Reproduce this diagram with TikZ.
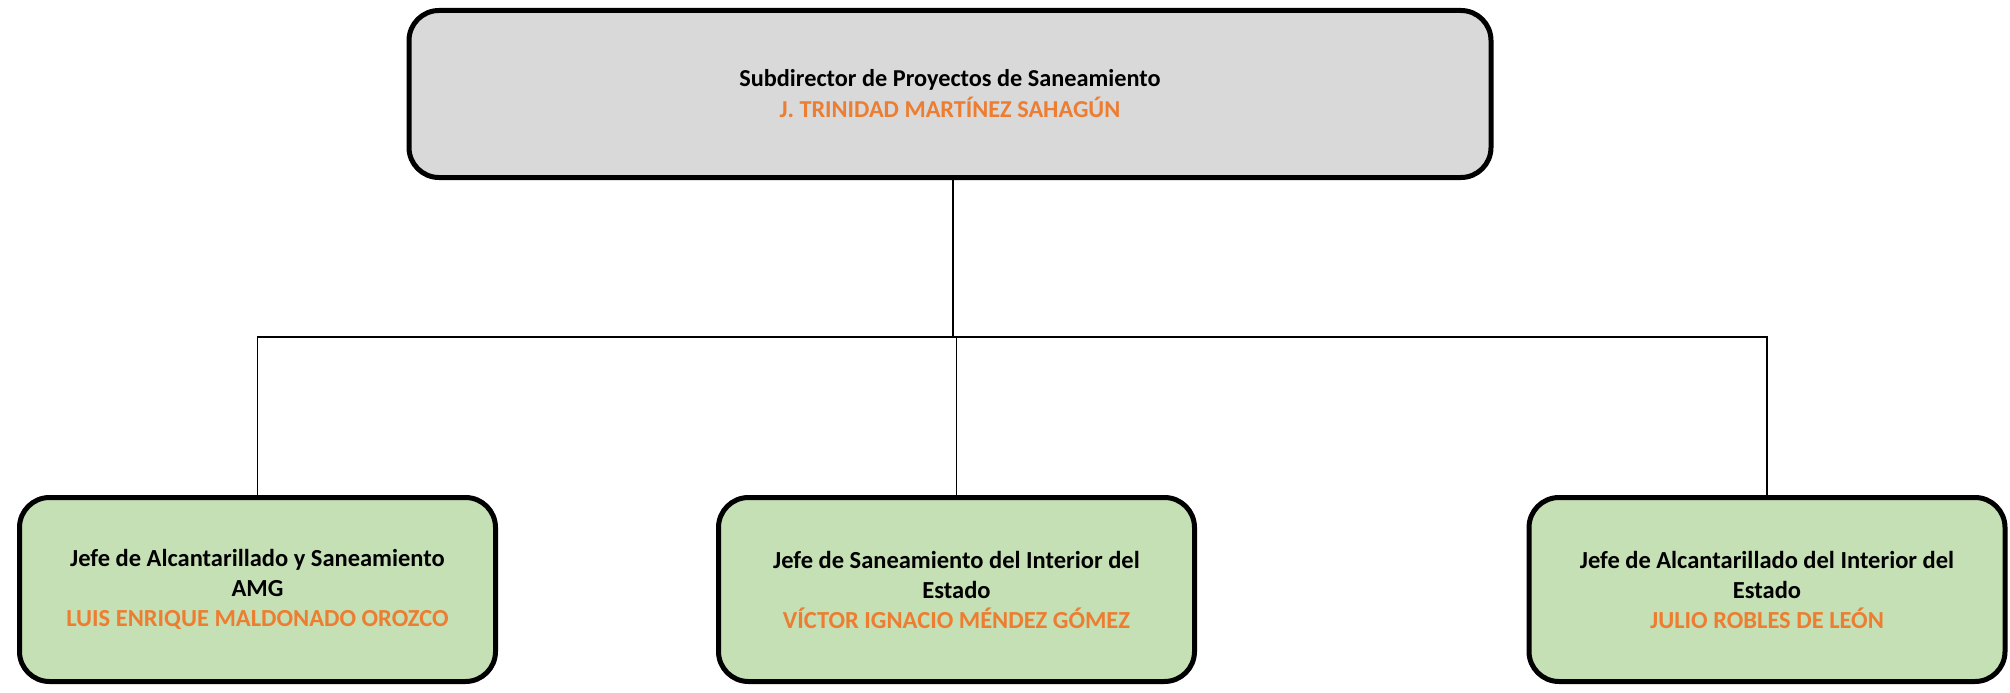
\documentclass[tikz,border=0pt]{standalone}
\usepackage{fontspec}
\setmainfont{Carlito}
\usepackage{tikz}
\usetikzlibrary{positioning}
\definecolor{boxgray}{HTML}{D9D9D9}
\definecolor{boxgreen}{HTML}{C5E0B4}
\definecolor{nameorange}{HTML}{ED7D31}

\begin{document}
\begin{tikzpicture}[x=1pt, y=-1pt,
chief node/.style={rectangle,draw,line width=5pt,rounded corners=30pt,fill=boxgray,
  minimum width=1082pt,minimum height=167pt,align=center,
  font=\fontsize{24.3}{31}\selectfont\bfseries},
staff node/.style={rectangle,draw,line width=5pt,rounded corners=30pt,fill=boxgreen,
  minimum width=476pt,minimum height=184pt,align=center,
  font=\fontsize{24.5}{30}\selectfont\bfseries},
link/.style={line width=1.5pt}]

\useasboundingbox (0,0) rectangle (2010,693);

\node[chief node] (S) at (950,94) {Subdirector de Proyectos de Saneamiento\\
  \textcolor{nameorange}{J. TRINIDAD MARTÍNEZ SAHAGÚN}};
\node[staff node] (A) at (257.5,589.5) {Jefe de Alcantarillado y Saneamiento\\AMG\\
  \textcolor{nameorange}{LUIS ENRIQUE MALDONADO OROZCO}};
\node[staff node] (B) at (956.5,589.5) {Jefe de Saneamiento del Interior del\\Estado\\
  \textcolor{nameorange}{VÍCTOR IGNACIO MÉNDEZ GÓMEZ}};
\node[staff node] (C) at (1767,589.5) {Jefe de Alcantarillado del Interior del\\Estado\\
  \textcolor{nameorange}{JULIO ROBLES DE LEÓN}};

\coordinate (bus) at (953,337);

\draw[link] (S.south -| bus) -- (bus);
\foreach \x in {A,B,C}
\draw[link] (bus) -| (\x.north);
\end{tikzpicture}
\end{document}
